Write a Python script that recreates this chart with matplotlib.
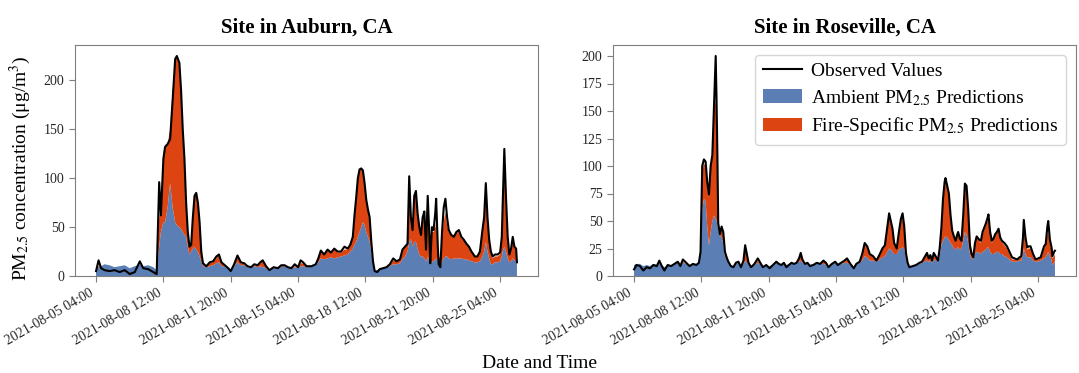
import matplotlib
matplotlib.use("Agg")
import matplotlib.pyplot as plt
from datetime import datetime, timedelta

plt.rcParams['font.family'] = ['Liberation Serif', 'DejaVu Serif']
plt.rcParams['mathtext.fontset'] = 'stix'

START = datetime(2021, 8, 5, 4, 0)
TICK_STEP_H = 80
N_TICKS = 7

# ---- Auburn (hours since start, values in ug/m3) ----
auburn_hours = [0, 3, 6, 10, 16, 22, 28, 34, 40, 46, 52, 56, 62, 68, 72, 75, 77, 80, 82, 85,
                88, 91, 94, 96, 99, 101, 103, 105, 107, 109, 111, 113, 115, 117, 119, 121, 123, 125, 127, 131,
                135, 139, 143, 146, 149, 153, 157, 160, 164, 168, 172, 176, 180, 184, 188, 192, 195, 198, 202, 206,
                211, 216, 220, 224, 228, 232, 236, 240, 243, 246, 250, 256, 261, 264, 267, 271, 275, 279, 283, 287,
                291, 295, 299, 302, 305, 307, 309, 311, 313, 315, 317, 319, 321, 323, 325, 327, 329, 331, 334, 337,
                341, 345, 349, 353, 357, 361, 364, 367, 370, 372, 374, 376, 378, 380, 382, 384, 386, 388, 390, 392,
                394, 396, 397, 399, 401, 403, 404, 406, 407, 409, 411, 413, 415, 417, 419, 422, 425, 428, 431, 434,
                437, 440, 443, 446, 450, 453, 456, 459, 461, 463, 465, 467, 469, 471, 474, 477, 480, 482, 483, 485,
                487, 489, 491, 493, 495, 497, 499, 500]
auburn_obs = [5, 16, 8, 6, 5, 6, 4, 6, 2, 4, 15, 8, 7, 4, 2, 96, 62, 120, 132, 135,
              140, 180, 222, 225, 218, 190, 150, 120, 75, 45, 30, 32, 60, 82, 85, 75, 55, 25, 13, 10,
              14, 15, 20, 22, 14, 11, 8, 5, 12, 21, 14, 13, 10, 9, 12, 11, 14, 16, 10, 6,
              9, 8, 11, 11, 9, 8, 12, 9, 16, 14, 10, 10, 12, 18, 26, 22, 27, 24, 28, 25,
              25, 30, 28, 32, 40, 62, 80, 100, 109, 110, 108, 95, 78, 68, 60, 35, 15, 5, 4, 7,
              8, 9, 12, 18, 15, 17, 27, 30, 33, 102, 60, 47, 82, 87, 64, 50, 42, 60, 66, 27,
              82, 40, 13, 50, 47, 65, 79, 30, 12, 9, 45, 70, 79, 60, 47, 42, 40, 45, 47, 40,
              37, 33, 30, 25, 20, 20, 25, 47, 60, 95, 60, 37, 25, 20, 22, 22, 24, 40, 72, 130,
              80, 40, 22, 28, 40, 30, 28, 14]
auburn_ambient = [7, 9, 10, 12, 11, 9, 10, 11, 8, 10, 12, 10, 11, 9, 6, 30, 45, 55, 55, 70,
                  95, 70, 55, 52, 50, 48, 45, 42, 40, 30, 22, 25, 28, 30, 27, 25, 20, 15, 10, 9,
                  10, 11, 13, 14, 10, 10, 8, 6, 10, 14, 11, 11, 9, 9, 10, 9, 10, 9, 8, 7,
                  8, 8, 9, 10, 9, 8, 9, 8, 10, 10, 9, 10, 11, 14, 18, 17, 18, 19, 18, 19,
                  20, 21, 22, 25, 28, 32, 35, 40, 45, 50, 55, 52, 45, 40, 35, 25, 12, 6, 6, 7,
                  8, 9, 10, 12, 12, 13, 17, 20, 25, 35, 38, 30, 35, 35, 28, 22, 20, 20, 18, 15,
                  20, 15, 12, 15, 15, 17, 18, 15, 12, 10, 15, 18, 20, 20, 18, 17, 18, 18, 18, 18,
                  17, 17, 16, 15, 14, 14, 15, 20, 25, 35, 25, 18, 12, 12, 14, 14, 15, 20, 25, 30,
                  25, 18, 14, 15, 18, 16, 15, 12]
auburn_fire = [1, 1, 0, 0, 0, 0, 0, 0, 0, 0, 0, 0, 0, 0, 0, 30, 25, 65, 75, 65,
               55, 120, 167, 173, 165, 132, 95, 68, 30, 15, 10, 10, 30, 52, 58, 47, 30, 10, 2, 1,
               3, 3, 5, 8, 3, 1, 0, 0, 1, 6, 2, 1, 1, 0, 1, 1, 3, 6, 1, 0,
               1, 0, 1, 1, 0, 0, 1, 1, 3, 3, 1, 0, 1, 3, 7, 5, 8, 5, 9, 5,
               4, 6, 5, 7, 12, 28, 43, 58, 63, 60, 53, 40, 31, 26, 20, 8, 3, 0, 0, 0,
               0, 0, 1, 4, 3, 4, 8, 10, 8, 35, 22, 20, 45, 50, 34, 26, 22, 35, 42, 20,
               35, 23, 8, 30, 30, 33, 37, 15, 8, 8, 25, 37, 45, 32, 27, 25, 24, 26, 27, 20,
               20, 15, 14, 10, 6, 6, 10, 25, 33, 55, 30, 17, 10, 6, 6, 6, 7, 20, 45, 80,
               40, 17, 8, 11, 17, 14, 13, 2]

# ---- Roseville ----
roseville_hours = [0, 3, 7, 11, 15, 19, 23, 27, 30, 33, 36, 40, 44, 48, 52, 55, 58, 62, 66, 70,
                   74, 77, 79, 81, 83, 85, 87, 89, 91, 93, 95, 97, 98, 99, 100, 102, 104, 106, 108, 110,
                   112, 115, 118, 121, 124, 127, 130, 132, 134, 136, 139, 143, 147, 150, 153, 157, 161, 165, 169, 172,
                   175, 178, 181, 184, 187, 190, 193, 196, 198, 200, 203, 206, 209, 213, 217, 221, 225, 228, 231, 235,
                   239, 242, 246, 250, 253, 257, 261, 264, 268, 271, 274, 277, 280, 284, 288, 292, 295, 298, 301, 303,
                   305, 307, 309, 312, 315, 317, 319, 321, 323, 325, 327, 331, 335, 339, 342, 345, 348, 350, 352, 354,
                   356, 359, 361, 363, 365, 367, 369, 370, 372, 374, 376, 378, 380, 382, 384, 385, 387, 389, 391, 393,
                   395, 397, 399, 401, 403, 405, 407, 410, 412, 414, 416, 418, 420, 421, 423, 425, 427, 429, 431, 433,
                   435, 437, 440, 443, 446, 449, 452, 455, 458, 460, 462, 463, 465, 467, 469, 471, 474, 477, 480, 483,
                   485, 487, 489, 491, 492, 494, 496, 497, 499, 500]
roseville_obs = [6, 10, 9, 5, 8, 7, 10, 9, 14, 9, 5, 10, 9, 11, 13, 9, 15, 12, 9, 11,
                 10, 12, 22, 100, 106, 104, 85, 74, 100, 110, 155, 200, 160, 110, 48, 38, 45, 40, 22, 17,
                 13, 9, 8, 12, 13, 8, 14, 28, 20, 12, 8, 11, 16, 12, 8, 10, 7, 10, 13, 11,
                 10, 12, 8, 10, 12, 11, 12, 16, 21, 15, 11, 12, 9, 10, 12, 11, 14, 12, 8, 11,
                 13, 10, 12, 14, 16, 11, 7, 11, 13, 20, 30, 27, 20, 18, 14, 20, 25, 28, 45, 57,
                 50, 43, 30, 25, 42, 52, 57, 45, 21, 12, 8, 9, 10, 12, 13, 17, 21, 16, 19, 14,
                 21, 17, 14, 25, 43, 70, 86, 89, 82, 75, 55, 41, 36, 32, 38, 40, 34, 32, 55, 84,
                 82, 60, 28, 20, 17, 30, 36, 33, 32, 40, 44, 48, 53, 56, 40, 32, 34, 38, 40, 43,
                 35, 32, 30, 27, 22, 17, 16, 15, 17, 18, 35, 51, 35, 26, 27, 27, 20, 15, 16, 17,
                 22, 27, 29, 45, 50, 33, 26, 18, 22, 23]
roseville_ambient = [10, 11, 11, 9, 10, 9, 11, 10, 12, 10, 8, 10, 10, 11, 12, 10, 12, 11, 10, 11,
                     11, 12, 20, 60, 70, 68, 45, 28, 40, 50, 55, 52, 50, 48, 42, 38, 35, 30, 18, 15,
                     12, 10, 9, 11, 12, 9, 11, 14, 12, 11, 9, 10, 12, 11, 9, 10, 9, 10, 12, 11,
                     10, 11, 10, 11, 12, 11, 12, 13, 14, 12, 11, 12, 10, 11, 11, 11, 11, 10, 9, 11,
                     12, 10, 11, 12, 12, 10, 8, 10, 12, 14, 18, 17, 14, 14, 13, 15, 17, 18, 22, 25,
                     24, 22, 20, 20, 24, 25, 26, 25, 16, 10, 8, 9, 10, 11, 12, 13, 14, 13, 14, 12,
                     15, 14, 13, 18, 28, 32, 35, 36, 35, 33, 30, 28, 25, 24, 26, 26, 24, 25, 32, 40,
                     38, 30, 20, 16, 15, 20, 22, 21, 20, 22, 23, 24, 26, 26, 22, 20, 20, 21, 22, 22,
                     20, 20, 18, 17, 15, 13, 13, 13, 14, 14, 20, 25, 20, 17, 17, 17, 14, 13, 13, 14,
                     15, 16, 17, 20, 22, 18, 15, 10, 12, 14]
roseville_fire = [0, 0, 0, 0, 0, 0, 0, 0, 1, 0, 0, 0, 0, 0, 0, 0, 1, 0, 0, 0,
                  0, 0, 1, 35, 32, 32, 35, 44, 60, 58, 95, 108, 90, 52, 6, 2, 9, 8, 4, 2,
                  1, 0, 0, 0, 0, 0, 3, 11, 8, 1, 0, 0, 2, 0, 0, 0, 0, 0, 0, 0,
                  0, 0, 0, 0, 0, 0, 0, 2, 5, 2, 0, 0, 0, 0, 0, 0, 3, 2, 0, 0,
                  0, 0, 0, 1, 3, 1, 0, 1, 1, 4, 10, 9, 6, 3, 1, 4, 7, 9, 20, 30,
                  24, 20, 10, 5, 16, 25, 29, 18, 5, 2, 0, 0, 0, 1, 1, 3, 6, 2, 4, 1,
                  5, 2, 1, 7, 14, 33, 45, 49, 45, 39, 20, 12, 10, 7, 11, 12, 9, 7, 18, 40,
                  40, 25, 7, 4, 2, 8, 13, 11, 10, 16, 19, 22, 24, 27, 16, 10, 13, 16, 17, 19,
                  13, 11, 10, 8, 5, 2, 2, 1, 2, 3, 12, 20, 10, 7, 8, 8, 4, 1, 2, 2,
                  5, 9, 11, 18, 18, 12, 9, 6, 6, 6]

sites = [
    ("Site in Auburn, CA", auburn_hours, auburn_obs, auburn_ambient, auburn_fire),
    ("Site in Roseville, CA", roseville_hours, roseville_obs, roseville_ambient, roseville_fire),
]

BLUE = '#5b7fb5'
RED = '#dc4412'
GREY = '#7f7f7f'


def to_dates(hours):
    return [START + timedelta(hours=h) for h in hours]


fig = plt.figure(figsize=(10.79, 3.73), dpi=100)
ax_left = fig.add_axes([75 / 1079, 97 / 373, 463 / 1079, 231 / 373])
ax_right = fig.add_axes([613 / 1079, 97 / 373, 463 / 1079, 231 / 373])

tick_dates = [START + timedelta(hours=TICK_STEP_H * k) for k in range(N_TICKS)]
tick_labels = [d.strftime('%Y-%m-%d %H:%M') for d in tick_dates]

for ax, (title, hrs, obs, amb, fire) in zip([ax_left, ax_right], sites):
    x = to_dates(hrs)
    ax.stackplot(x, amb, fire, colors=[BLUE, RED],
                 labels=['Ambient PM$_{2.5}$ Predictions', 'Fire-Specific PM$_{2.5}$ Predictions'])
    ax.plot(x, obs, color='black', linewidth=1.5, label='Observed Values')
    ax.set_title(title, fontsize=15, fontweight='bold', pad=9)
    ax.set_xticks(tick_dates)
    ax.set_xticklabels(tick_labels, rotation=30, ha='right', fontsize=10)
    ax.tick_params(axis='y', labelsize=10)
    ax.tick_params(colors=GREY, labelcolor='#262626', length=4)
    for s in ax.spines.values():
        s.set_color(GREY)
    ax.set_ylim(bottom=0)

ax_left.set_yticks([0, 50, 100, 150, 200])
ax_right.set_yticks([0, 25, 50, 75, 100, 125, 150, 175, 200])

handles, labels = ax_right.get_legend_handles_labels()
order = [2, 0, 1]
ax_right.legend([handles[i] for i in order], [labels[i] for i in order],
                loc='upper right', fontsize=14, fancybox=True,
                handletextpad=0.5, labelspacing=0.4, borderaxespad=0.5)

fig.text(20 / 1079, 1 - 168 / 373, 'PM$_{2.5}$ concentration (μg/m$^3$)',
         rotation=90, ha='center', va='center', fontsize=14)
fig.text(0.5, 1 - 363 / 373, 'Date and Time', ha='center', va='center', fontsize=14)

fig.savefig('out.png', dpi=100)
